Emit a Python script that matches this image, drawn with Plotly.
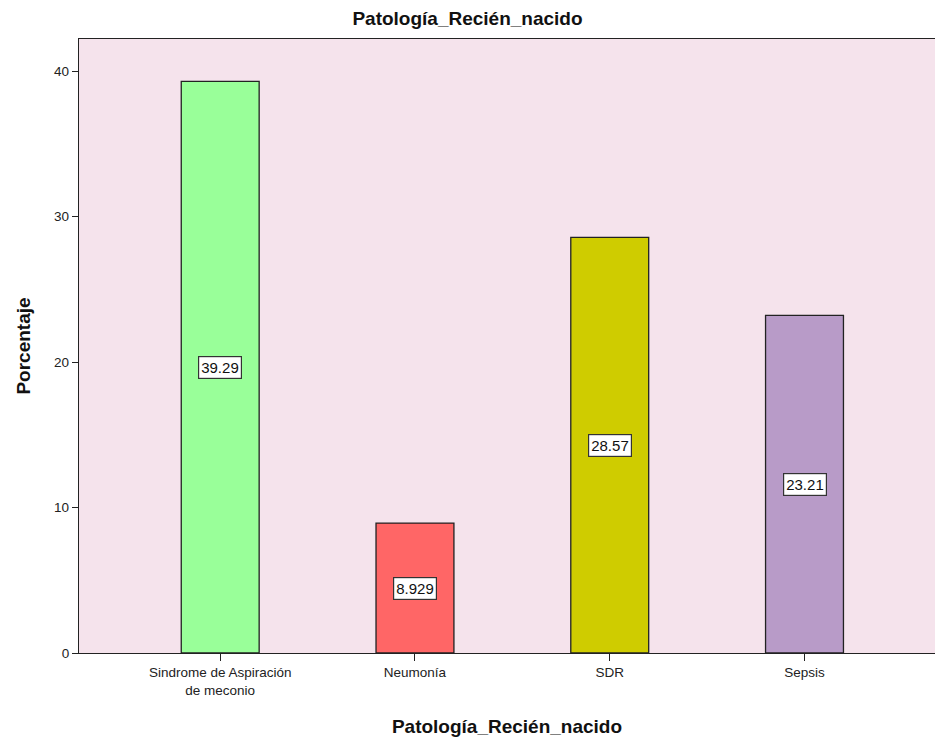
import plotly.graph_objects as go

categories = ["Sindrome de Aspiración<br>de meconio", "Neumonía", "SDR", "Sepsis"]
percentages = [39.29, 8.929, 28.57, 23.21]
value_labels = ["39.29", "8.929", "28.57", "23.21"]
bar_colors = ["#99FF99", "#FF6666", "#CFCC00", "#B89BC8"]
y_ticks = [0, 10, 20, 30, 40]

fig = go.Figure()
fig.add_trace(go.Bar(
    x=list(range(len(categories))),
    y=percentages,
    width=0.4,
    marker=dict(color=bar_colors, line=dict(color="#222222", width=1.3)),
    hoverinfo="skip",
))

# value boxes placed mid-height inside each bar
for i, (v, lab) in enumerate(zip(percentages, value_labels)):
    fig.add_annotation(
        x=i, y=v / 2, text=lab, showarrow=False,
        font=dict(family="Arial, Liberation Sans", size=15, color="#111111"),
        bgcolor="white", bordercolor="#333333", borderwidth=1.2, borderpad=2,
    )

fig.update_layout(
    width=935, height=742,
    margin=dict(l=79, r=0, t=39, b=89),
    paper_bgcolor="white",
    plot_bgcolor="#F5E3EC",
    showlegend=False,
    font=dict(family="Arial, Liberation Sans", color="#222222"),
    title=dict(
        text="<b>Patología_Recién_nacido</b>",
        x=0.5, xanchor="center", y=0.975, yanchor="middle",
        font=dict(size=19, color="#111111"),
    ),
)

fig.update_xaxes(
    range=[-0.725, 3.67],
    tickmode="array", tickvals=list(range(len(categories))), ticktext=categories,
    ticks="outside", ticklen=7, tickcolor="#222222", tickwidth=1.3,
    tickfont=dict(size=13.5, color="#222222"),
    showline=True, linecolor="#222222", linewidth=1.3, mirror=True,
    showgrid=False, zeroline=False,
    title=dict(text="<b>Patología_Recién_nacido</b>", font=dict(size=19, color="#111111"), standoff=22),
)
fig.update_yaxes(
    range=[0, 42.2],
    tickmode="array", tickvals=y_ticks, ticktext=[str(t) for t in y_ticks],
    ticks="outside", ticklen=6, tickcolor="#222222", tickwidth=1.3,
    tickfont=dict(size=13.5, color="#222222"),
    showline=True, linecolor="#222222", linewidth=1.3,
    showgrid=False, zeroline=False,
    title=dict(text="<b>Porcentaje</b>", font=dict(size=19, color="#111111"), standoff=18),
)

fig.write_html(
    "out.html",
    post_script=(
        "document.documentElement.style.overflow='hidden';"
        "document.body.style.margin='0';"
        "document.body.style.overflow='hidden';"
    ),
)
